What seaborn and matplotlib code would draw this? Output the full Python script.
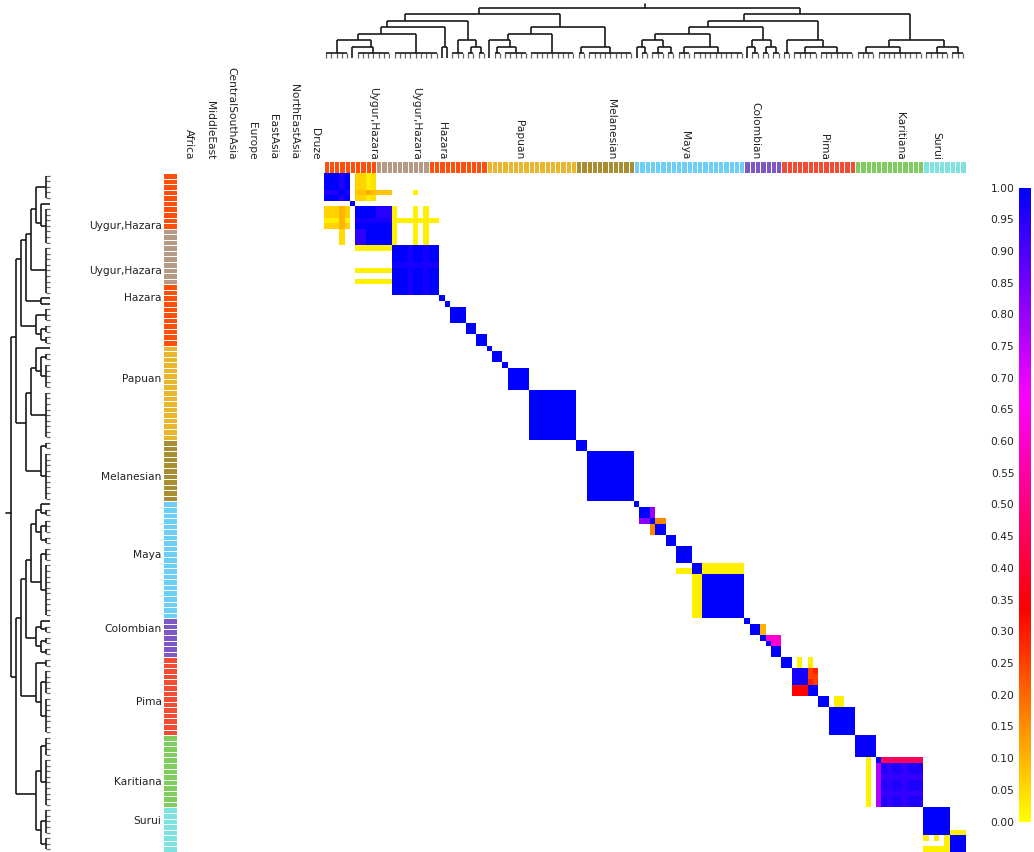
import numpy as np
import pandas as pd
import matplotlib
matplotlib.use("Agg")
import matplotlib.pyplot as plt
from matplotlib.colors import LinearSegmentedColormap, ListedColormap
import seaborn as sns

sns.set_theme(style="white")
plt.rcParams['font.family'] = ['DejaVu Sans']

N_SAMPLES = 122

# population groups along the (shared) row/column ordering
group_names = ["Hazara", "Uygur", "Hazara", "Papuan", "Melanesian",
               "Maya", "Colombian", "Pima", "Karitiana", "Surui"]
group_sizes = [10, 10, 11, 17, 11, 21, 7, 14, 13, 8]
group_colors = ["#ff4f0a", "#b59b86", "#ff4f0a", "#ebb62b", "#a98d32",
                "#6ccff6", "#7e57c6", "#f44b35", "#7fcd5f", "#7ee3e0"]

# population labels and their positions (in sample units)
label_names = ["Uygur,Hazara", "Uygur,Hazara", "Hazara", "Papuan", "Melanesian",
               "Maya", "Colombian", "Pima", "Karitiana", "Surui"]
label_pos = [9.5, 17.6, 22.5, 37.1, 54.7, 68.7, 82.0, 95.1, 109.5, 116.5]

# populations with no samples in this subset
empty_names = ["Africa", "MiddleEast", "CentralSouthAsia", "Europe",
               "EastAsia", "NorthEastAsia", "Druze"]
empty_pos = [-25.6, -21.6, -17.6, -13.6, -9.6, -5.6, -1.6]

# diagonal blocks: (first, last, value)
diag_blocks = [
    (0, 4, 1.0), (5, 5, 1.0), (6, 12, 1.0), (13, 21, 1.0), (22, 22, 1.0),
    (23, 23, 1.0), (24, 26, 1.0), (27, 28, 1.0), (29, 30, 1.0), (31, 31, 1.0),
    (32, 33, 1.0), (34, 34, 1.0), (35, 38, 1.0), (39, 47, 1.0), (48, 49, 1.0),
    (50, 58, 1.0), (59, 59, 1.0), (60, 61, 1.0), (62, 62, 1.0), (63, 64, 1.0),
    (65, 66, 1.0), (67, 69, 1.0), (70, 71, 1.0), (72, 79, 1.0), (80, 80, 1.0),
    (81, 82, 1.0), (83, 83, 1.0), (84, 84, 1.0), (85, 86, 1.0), (87, 88, 1.0),
    (89, 91, 0.97), (92, 93, 1.0), (94, 95, 1.0), (96, 100, 1.0),
    (101, 104, 0.99), (105, 105, 1.0), (106, 113, 0.96), (114, 118, 1.0),
    (119, 121, 1.0),
]

# off-diagonal / within-block patches: (row first, row last, col first, col last, value)
patches = [
    (3, 3, 0, 4, 0.96), (0, 4, 3, 3, 0.96), (3, 3, 3, 3, 1.0),
    (0, 4, 6, 7, 0.06), (0, 4, 8, 8, 0.02), (0, 4, 9, 9, 0.04),
    (3, 3, 6, 12, 0.08), (3, 3, 8, 8, 0.11), (3, 3, 17, 17, 0.02),
    (6, 9, 0, 4, 0.06), (8, 8, 0, 4, 0.02), (6, 9, 3, 3, 0.10), (10, 12, 3, 3, 0.05),
    (6, 7, 10, 12, 0.95), (10, 12, 6, 7, 0.94), (8, 8, 6, 12, 0.97),
    (6, 12, 13, 13, 0.02), (8, 8, 13, 21, 0.02), (6, 12, 17, 17, 0.02),
    (6, 12, 19, 19, 0.02), (13, 13, 6, 12, 0.02), (17, 17, 6, 12, 0.02),
    (19, 19, 6, 12, 0.02),
    (13, 21, 16, 16, 0.97), (16, 16, 13, 21, 0.97), (13, 21, 19, 19, 0.97),
    (60, 61, 62, 62, 0.80), (62, 62, 60, 61, 0.82),
    (62, 62, 63, 64, 0.16), (63, 64, 62, 62, 0.16),
    (70, 71, 72, 79, 0.02), (71, 71, 67, 69, 0.02), (72, 79, 70, 71, 0.02),
    (81, 82, 83, 83, 0.10),
    (83, 83, 84, 86, 0.60), (84, 84, 85, 86, 0.60),
    (87, 88, 90, 90, 0.02), (87, 88, 92, 92, 0.02),
    (89, 91, 92, 93, 0.25), (89, 89, 93, 93, 0.29), (91, 91, 92, 92, 0.29),
    (92, 93, 89, 91, 0.33),
    (94, 95, 97, 98, 0.02),
    (105, 105, 106, 113, 0.45), (106, 113, 105, 105, 0.76),
    (105, 113, 103, 103, 0.02),
    (106, 113, 107, 107, 0.93), (106, 113, 110, 110, 0.93),
    (108, 108, 106, 113, 0.93), (111, 111, 106, 113, 0.93),
    (118, 118, 119, 121, 0.02), (119, 119, 114, 114, 0.02),
    (119, 119, 116, 116, 0.02), (119, 121, 118, 118, 0.02),
    (121, 121, 114, 118, 0.02),
]

# dendrogram: internal node = [height, left, right]; leaf cluster = (first, last)
tree = [8,
        [7,
         [6,
          [5,
           [4,
            [3, (0, 4), [2, (5, 5), (6, 12)]],
            (13, 21)],
           [2, (22, 22), (23, 23)]],
          [3, (24, 26), [2, (27, 28), (29, 30)]]],
         [5,
          [4,
           [3, (31, 31), [2, (32, 33), (34, 38)]],
           (39, 47)],
          [2, (48, 49), (50, 58)]]],
        [7,
         [6,
          [5,
           [4,
            [3, [2, (59, 59), (60, 61)], [2, (62, 64), (65, 66)]],
            [2, (67, 69), (70, 79)]],
           [3, [2, (80, 80), (81, 82)], [2, (83, 84), (85, 86)]]],
          [3, (87, 88), [2, (89, 93), (94, 100)]]],
         [3, [2, (101, 104), (105, 113)], [2, (114, 118), (119, 121)]]]]

# ---------------------------------------------------------------- matrix
mat = np.full((N_SAMPLES, N_SAMPLES), np.nan)
for a, b, v in diag_blocks:
    mat[a:b + 1, a:b + 1] = v
for r0, r1, c0, c1, v in patches:
    mat[r0:r1 + 1, c0:c1 + 1] = v
df = pd.DataFrame(mat)

cmap = LinearSegmentedColormap.from_list(
    "share", [(0.0, "#ffff00"), (1 / 3, "#ff0000"), (2 / 3, "#ff00ff"), (1.0, "#0000ff")])

codes = np.repeat(np.arange(len(group_sizes)), group_sizes)
strip_cmap = ListedColormap(group_colors)

# ---------------------------------------------------------------- layout
W, H = 1034, 852
fig = plt.figure(figsize=(W / 100, H / 100), dpi=100)


def px_axes(x0, y0, x1, y1):
    return fig.add_axes([x0 / W, 1 - y1 / H, (x1 - x0) / W, (y1 - y0) / H])


ax_heat = px_axes(323.5, 173, 965.5, 852)
ax_col = px_axes(323.5, 160.5, 965.5, 172.5)
ax_row = px_axes(163, 173, 176.5, 852)
ax_top = px_axes(323.5, 0, 965.5, 60)
ax_left = px_axes(0, 173, 55, 852)
cax = px_axes(1018.5, 187.5, 1031, 821.5)

# ---------------------------------------------------------------- heatmap
ticks = np.round(np.arange(0, 1.0001, 0.05), 2)
sns.heatmap(df, ax=ax_heat, cmap=cmap, vmin=0, vmax=1, mask=df.isna(),
            cbar_ax=cax, xticklabels=False, yticklabels=False,
            cbar_kws={"ticks": ticks})
cbar = ax_heat.collections[0].colorbar
cbar.outline.set_visible(False)
cbar.ax.yaxis.set_ticks_position("left")
cbar.ax.set_yticklabels([f"{t:.2f}" for t in ticks])
cbar.ax.tick_params(length=0, pad=3, labelsize=7.7, colors="#222222")

# ---------------------------------------------------------------- colour strips
sns.heatmap(codes.reshape(-1, 1), ax=ax_row, cmap=strip_cmap, vmin=-0.5,
            vmax=len(group_colors) - 0.5, cbar=False, linewidths=0.5,
            linecolor="white", xticklabels=False, yticklabels=False)
sns.heatmap(codes.reshape(1, -1), ax=ax_col, cmap=strip_cmap, vmin=-0.5,
            vmax=len(group_colors) - 0.5, cbar=False, linewidths=0.5,
            linecolor="white", xticklabels=False, yticklabels=False)

txt_kw = dict(fontsize=7.7, color="#222222")
for name, p in zip(label_names, label_pos):
    ax_row.text(-0.11, p, name, transform=ax_row.get_yaxis_transform(),
                ha="right", va="center", **txt_kw)
    ax_col.text(p, 1.08, name, transform=ax_col.get_xaxis_transform(),
                rotation=270, ha="center", va="bottom", **txt_kw)
for name, p in zip(empty_names, empty_pos):
    ax_col.text(p, 1.08, name, transform=ax_col.get_xaxis_transform(),
                rotation=270, ha="center", va="bottom", clip_on=False, **txt_kw)


# ---------------------------------------------------------------- dendrograms
def draw_node(ax, node, side):
    """Draw a subtree; links attach at the centroid of the leaves below."""
    def seg(p0, h0, p1, h1, **kw):
        if side == "top":
            ax.plot([p0, p1], [h0, h1], **kw)
        else:
            ax.plot([h0, h1], [p0, p1], **kw)

    branch = dict(color="#1a1a1a", lw=1.2, solid_capstyle="butt")
    stub = dict(color="#666666", lw=0.9, solid_capstyle="butt")

    if isinstance(node, tuple):
        a, b = node
        leaves = [i + 0.5 for i in range(a, b + 1)]
        if a == b:
            return leaves, 0.2
        for p in leaves:
            seg(p, 1.0, p, 0.2, **stub)
        seg(leaves[0], 1.0, leaves[-1], 1.0, **branch)
        return leaves, 1.0
    h, left, right = node
    l1, h1 = draw_node(ax, left, side)
    l2, h2 = draw_node(ax, right, side)
    p1, p2 = np.mean(l1), np.mean(l2)
    seg(p1, h1, p1, h, **branch)
    seg(p2, h2, p2, h, **branch)
    seg(p1, h, p2, h, **branch)
    return l1 + l2, h


leaves, root_h = draw_node(ax_top, tree, "top")
root_p = np.mean(leaves)
ax_top.plot([root_p, root_p], [root_h, root_h + 0.6], color="#1a1a1a", lw=1.2)
ax_top.set_xlim(0, N_SAMPLES)
ax_top.set_ylim(-0.09, 9.24)

leaves, root_h = draw_node(ax_left, tree, "left")
root_p = np.mean(leaves)
ax_left.plot([root_h, root_h + 1.0], [root_p, root_p], color="#1a1a1a", lw=1.2)
ax_left.set_ylim(N_SAMPLES, 0)
ax_left.set_xlim(10.2, -0.8)

for ax in (ax_top, ax_left):
    ax.set_axis_off()

fig.savefig("out.png", dpi=100, facecolor="white")
